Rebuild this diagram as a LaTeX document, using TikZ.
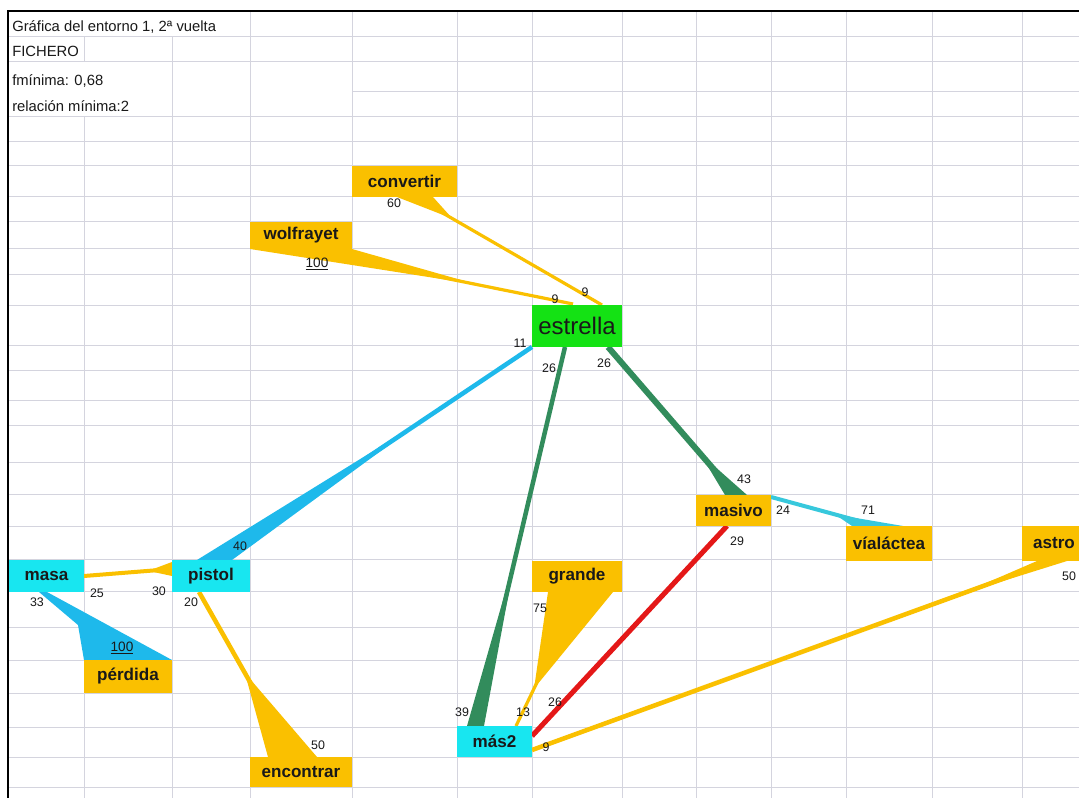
\documentclass[tikz,border=0pt]{standalone}
\usepackage{fontspec}
\setmainfont{Liberation Sans}
\usetikzlibrary{calc}
\definecolor{gold}{RGB}{250,192,0}
\definecolor{boxcyan}{RGB}{24,230,240}
\definecolor{linecyan}{RGB}{30,185,235}
\definecolor{tealcyan}{RGB}{55,200,220}
\definecolor{boxgreen}{RGB}{20,226,20}
\definecolor{seagr}{RGB}{50,140,92}
\definecolor{redline}{RGB}{228,24,24}
\definecolor{gridgray}{RGB}{212,212,222}
\definecolor{ink}{RGB}{25,25,25}
\pgfdeclarelayer{gridlayer}
\pgfdeclarelayer{edgelayer}
\pgfsetlayers{gridlayer,edgelayer,main}
\newcommand{\wedgelink}[6]{%
  \coordinate (wm) at ($(#3)!0.5!(#4)$);
  \coordinate (wa) at ($(#2)!#5!(wm)$);
  \draw[#1, line width=#6] (#2) -- (wm);
  \fill[#1] (wa) -- (#3) -- (#4) -- cycle;}
\tikzset{
  bx/.style 2 args={minimum width=#1*0.75pt, minimum height=#2*0.75pt, inner sep=0pt, outer sep=0pt,
    text=ink, font=\fontsize{12.8}{14}\selectfont\bfseries},
  ybox/.style={fill=gold},
  cbox/.style={fill=boxcyan},
  num/.style={text=ink, font=\fontsize{9.3}{10}\selectfont, inner sep=0pt},
  bignum/.style={text=ink, font=\fontsize{10.2}{11}\selectfont, inner sep=0pt},
  info/.style={anchor=west, text=ink, font=\fontsize{11.1}{12}\selectfont, inner sep=0pt},
  gridline/.style={draw=gridgray, line width=0.75pt},
  frameline/.style={draw=black, line width=2.2pt}
}
\begin{document}
\begin{tikzpicture}[x=0.75pt,y=-0.75pt]
\useasboundingbox (0,0) rectangle (1079,798);
\begin{pgfonlayer}{gridlayer}
  \fill[white] (0,0) rectangle (1079,798);
  \foreach \y in {37,62,117,142,166,197,222,249,275,306,346,371,401,426,463,495,527,560,592,627,660,693,727,757,787}
    \draw[gridline] (8,\y) -- (1079,\y);
  \draw[gridline] (352,92) -- (1079,92);
  \foreach \x in {250,352,457,532,622,696,771,846,932,1022}
    \draw[gridline] (\x,12) -- (\x,798);
  \draw[gridline] (172,37) -- (172,798);
  \draw[gridline] (84,37) -- (84,62);
  \draw[gridline] (84,117) -- (84,798);
  \draw[frameline] (8,798) -- (8,11) -- (1079,11);
\end{pgfonlayer}

% header texts
\node[info] (title) at (12,27.5) {Gráfica del entorno 1, 2ª vuelta};
\node[info] (fich) at (12,51.5) {FICHERO};
\node[info] (fmin) at (12,81) {fmínima: 0,68};
\node[info] (rel) at (12,106.5) {relación mínima:2};

% boxes
\node[bx={105}{31}, ybox] (convertir) at (404.5,181.5) {convertir};
\node[bx={102}{27}, ybox] (wolfrayet) at (301,235.5) {wolfrayet};
\node[bx={90}{42}, fill=boxgreen, font=\fontsize{18}{20}\selectfont] (estrella) at (577,326) {estrella};
\node[bx={75}{32}, cbox] (masa) at (46.5,576) {masa};
\node[bx={78}{32}, cbox] (pistol) at (211,576) {pistol};
\node[bx={88}{33}, ybox] (perdida) at (128,676.5) {pérdida};
\node[bx={102}{30}, ybox] (encontrar) at (301,772) {encontrar};
\node[bx={90}{31}, ybox] (grande) at (577,576.5) {grande};
\node[bx={75}{31}, cbox] (mas2) at (494.5,741.5) {más2};
\node[bx={75}{31}, ybox] (masivo) at (733.5,510.5) {masivo};
\node[bx={86}{35}, ybox] (vialactea) at (889,543.5) {víaláctea};
\node[bx={64}{35}, ybox] (astro) at (1054,543.5) {astro};

% connector end points
\coordinate (e1s) at ($(estrella.north west)+(70,0)$);
\coordinate (e1a) at ($(convertir.south west)+(45,0)$);
\coordinate (e1b) at ($(convertir.south west)+(81,0)$);
\coordinate (e2s) at ($(estrella.north west)+(41,-1)$);
\coordinate (e3s) at (estrella.south west);
\coordinate (e3a) at ($(pistol.north west)+(25,0)$);
\coordinate (e3b) at ($(pistol.north west)+(60,0)$);
\coordinate (e4s) at (masa.east);
\coordinate (e4a) at ($(pistol.north west)+(0,2)$);
\coordinate (e4b) at (pistol.west);
\coordinate (e5s1) at ($(masa.south)+(-7.5,0)$);
\coordinate (e5s2) at ($(masa.south)+(0.5,0)$);
\coordinate (e5k) at ($(perdida.north west)+(-6,-35)$);
\coordinate (e6s) at ($(pistol.south west)+(27,0)$);
\coordinate (e6a) at ($(encontrar.north west)+(18,0)$);
\coordinate (e6b) at ($(encontrar.north west)+(67,0)$);
\coordinate (e7s) at ($(estrella.south west)+(33,0)$);
\coordinate (e7a) at ($(mas2.north west)+(10,0)$);
\coordinate (e7b) at ($(mas2.north west)+(27,0)$);
\coordinate (e8s) at ($(estrella.south east)+(-14,0)$);
\coordinate (e8a) at ($(masivo.north west)+(29,0)$);
\coordinate (e8b) at ($(masivo.north west)+(51,0)$);
\coordinate (e9s) at ($(masivo.south west)+(31,0)$);
\coordinate (e9t) at ($(mas2.east)+(0,-5.5)$);
\coordinate (e10s) at ($(masivo.north east)+(0,2)$);
\coordinate (e10a) at ($(vialactea.north west)+(6,0)$);
\coordinate (e10b) at ($(vialactea.north west)+(57,0)$);
\coordinate (e11s) at ($(mas2.south east)+(0,-7)$);
\coordinate (e11a) at ($(astro.south west)+(15,0)$);
\coordinate (e11b) at ($(astro.south west)+(45,0)$);
\coordinate (e12s) at ($(mas2.north east)+(-16,0)$);
\coordinate (e12a) at ($(grande.south west)+(16,0)$);
\coordinate (e12b) at ($(grande.south west)+(81,0)$);

\begin{pgfonlayer}{edgelayer}
  \wedgelink{gold}{e1s}{e1a}{e1b}{0.8}{2.4pt}
  \wedgelink{gold}{e2s}{wolfrayet.south west}{wolfrayet.south east}{0.35}{2.4pt}
  \wedgelink{linecyan}{e3s}{e3a}{e3b}{0.35}{3.4pt}
  \wedgelink{gold}{e4s}{e4a}{e4b}{0.73}{3pt}
  \fill[linecyan] (e5s1) -- (e5s2) -- (perdida.north east) -- (perdida.north west) -- (e5k) -- cycle;
  \wedgelink{gold}{e6s}{e6a}{e6b}{0.49}{3.4pt}
  \wedgelink{seagr}{e7s}{e7a}{e7b}{0.55}{3.4pt}
  \wedgelink{seagr}{e8s}{e8a}{e8b}{0.72}{4.5pt}
  \draw[redline, line width=3.8pt] (e9s) -- (e9t);
  \wedgelink{tealcyan}{e10s}{e10a}{e10b}{0.6}{3pt}
  \wedgelink{gold}{e11s}{e11a}{e11b}{0.82}{3.4pt}
  \wedgelink{gold}{e12s}{e12a}{e12b}{0.28}{2.4pt}
\end{pgfonlayer}

% weight labels
\node[num] (l60) at (394,203) {60};
\node[bignum] (l100a) at (317,264) {\underline{100}};
\node[num] (l9a) at (555,299) {9};
\node[num] (l9b) at (585,292) {9};
\node[num] (l11) at (520,343) {11};
\node[num] (l26a) at (549,368) {26};
\node[num] (l26b) at (604,363) {26};
\node[num] (l40) at (240,546) {40};
\node[num] (l25) at (97,593) {25};
\node[num] (l30) at (159,591) {30};
\node[num] (l33) at (37,602) {33};
\node[bignum] (l100b) at (122,648) {\underline{100}};
\node[num] (l20) at (191,602) {20};
\node[num] (l50a) at (318,745) {50};
\node[num] (l75) at (540,608) {75};
\node[num] (l13) at (523,712) {13};
\node[num] (l39) at (462,712) {39};
\node[num] (l26c) at (555,702) {26};
\node[num] (l9c) at (546,747) {9};
\node[num] (l29) at (737,541) {29};
\node[num] (l43) at (744,479) {43};
\node[num] (l24) at (783,510) {24};
\node[num] (l71) at (868,510) {71};
\node[num] (l50b) at (1069,576) {50};
\end{tikzpicture}
\end{document}
